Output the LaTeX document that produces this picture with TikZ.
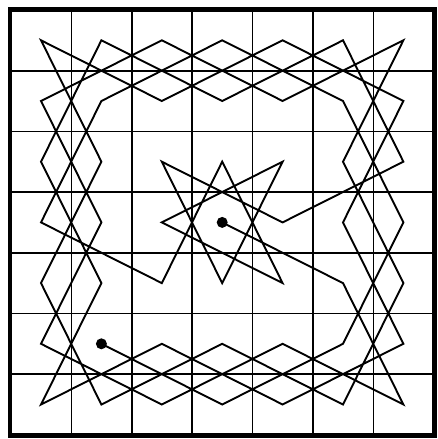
\documentclass[tikz,border=0pt]{standalone}
\usepackage{tikz}
\begin{document}
\begin{tikzpicture}[
        x=1pt, y=-1pt,
        frame/.style={draw, line width=4.6pt},
        gridline/.style={line width=1.7pt},
        tour/.style={line width=1.9pt, line join=miter},
        dot/.style={circle, fill=black, inner sep=0pt, minimum size=11pt}
    ]
        \useasboundingbox (0,0) rectangle (438,439);

        % Board
        \foreach \i in {1,...,6} {
            \draw[gridline] ({11+60.4*\i},10) -- ({11+60.4*\i},435);
            \draw[gridline] (10,{10+60.7*\i}) -- (434,{10+60.7*\i});
        }
        \draw[frame] (9.8,9.6) rectangle (434.6,435.6);

        % Square centres, column then row
        \foreach \c in {0,...,6}
            \foreach \r in {0,...,6}
                \coordinate (sq\c\r) at ({41+60.4*\c},{40.3+60.7*\r});

        % Knight's tour
        \draw[tour] (sq15) -- (sq36) -- (sq55) -- (sq63) -- (sq51) -- (sq30) -- (sq11) -- (sq03)
            -- (sq24) -- (sq32) -- (sq44) -- (sq23) -- (sq42) -- (sq34) -- (sq22) -- (sq43)
            -- (sq62) -- (sq50) -- (sq31) -- (sq10) -- (sq02) -- (sq14) -- (sq06) -- (sq25)
            -- (sq46) -- (sq65) -- (sq53) -- (sq61) -- (sq40) -- (sq21) -- (sq00) -- (sq12)
            -- (sq04) -- (sq16) -- (sq35) -- (sq56) -- (sq64) -- (sq52) -- (sq60) -- (sq41)
            -- (sq20) -- (sq01) -- (sq13) -- (sq05) -- (sq26) -- (sq45) -- (sq66) -- (sq54)
            -- (sq33);

        % Start and end
        \node[dot] (start) at (sq15) {};
        \node[dot] (finish) at (sq33) {};
\end{tikzpicture}
\end{document}
